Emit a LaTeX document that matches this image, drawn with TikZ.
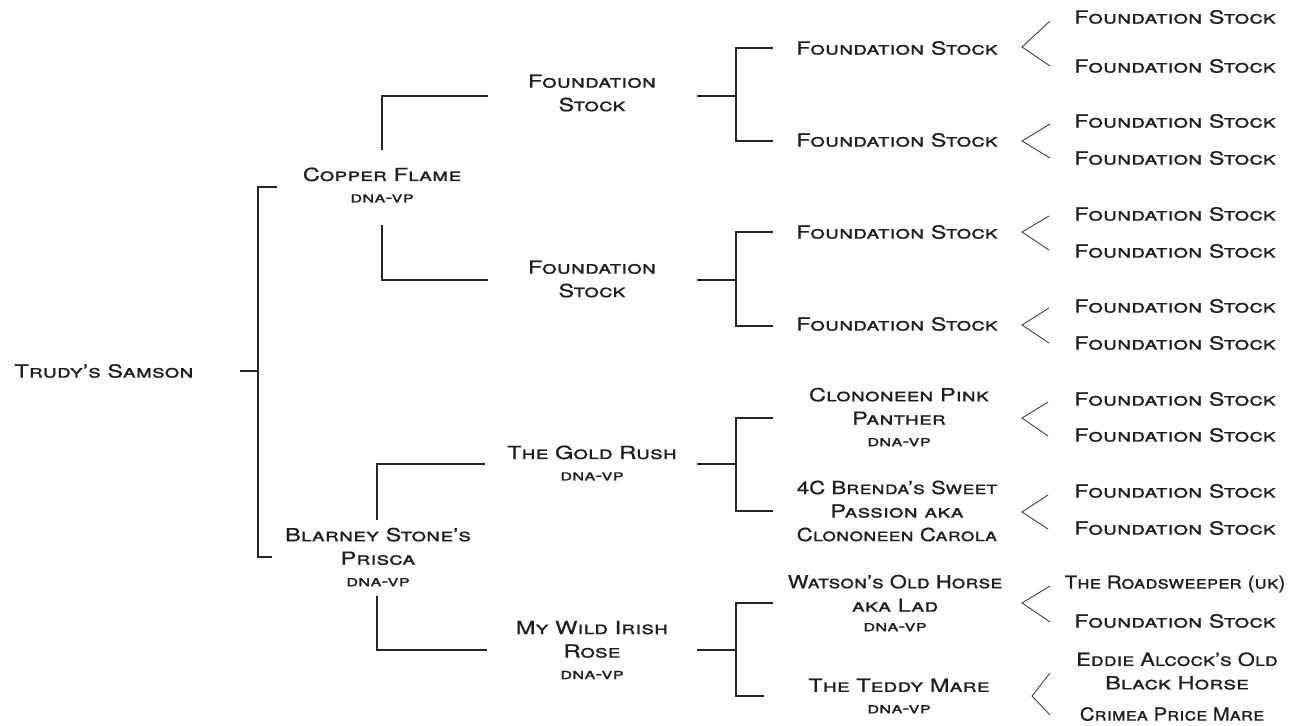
\documentclass[tikz,border=0pt]{standalone}
\usepackage{fontspec}
\setmainfont{TeX Gyre Heros}[FakeStretch=1.31,FakeBold=0.7]
\newcommand\dnavp{{\fontsize{15.5}{17}\selectfont dna-vp}}
\begin{document}
\begin{tikzpicture}[x=1pt,y=-1pt,
  horse/.style={inner sep=0pt,align=center,font=\fontsize{18}{23.5}\selectfont\scshape,text=black!88},
  br/.style={draw=black!85,line width=1.3pt},
  chev/.style={draw=black!75,line width=0.9pt}]
\useasboundingbox (0,0) rectangle (1289,725);
% generation 0
\node[horse] (root) at (104,371) {Trudy's Samson};
% generation 1
\node[horse] (cf) at (382,185) {Copper Flame\\[-2pt]\dnavp};
\node[horse] (bp) at (378,557) {Blarney Stone's\\Prisca\\[-2pt]\dnavp};
% generation 2
\node[horse] (fs1) at (592,93) {Foundation\\Stock};
\node[horse] (fs2) at (592,279) {Foundation\\Stock};
\node[horse] (gr) at (592,463) {The Gold Rush\\[-2pt]\dnavp};
\node[horse] (wr) at (592,650) {My Wild Irish\\Rose\\[-2pt]\dnavp};
% generation 3
\node[horse] (a1) at (897,48) {Foundation Stock};
\node[horse] (a2) at (897,140) {Foundation Stock};
\node[horse] (a3) at (897,232) {Foundation Stock};
\node[horse] (a4) at (897,324) {Foundation Stock};
\node[horse] (a5) at (899,417) {Clononeen Pink\\Panther\\[-2pt]\dnavp};
\node[horse] (a6) at (897,511) {\scalebox{0.94}[1]{4C Brenda's Sweet}\\Passion aka\\\scalebox{0.94}[1]{Clononeen Carola}};
\node[horse] (a7) at (895,603) {\scalebox{0.93}[1]{Watson's Old Horse}\\aka Lad\\[-4pt]\dnavp};
\node[horse] (a8) at (899,696) {The Teddy Mare\\[-2pt]\dnavp};
% generation 4
\node[horse] (b1) at (1175,17) {Foundation Stock};
\node[horse] (b2) at (1175,66) {Foundation Stock};
\node[horse] (b3) at (1175,121) {Foundation Stock};
\node[horse] (b4) at (1175,158) {Foundation Stock};
\node[horse] (b5) at (1175,214) {Foundation Stock};
\node[horse] (b6) at (1175,251) {Foundation Stock};
\node[horse] (b7) at (1175,306) {Foundation Stock};
\node[horse] (b8) at (1175,343) {Foundation Stock};
\node[horse] (b9) at (1175,399) {Foundation Stock};
\node[horse] (b10) at (1175,435) {Foundation Stock};
\node[horse] (b11) at (1175,491) {Foundation Stock};
\node[horse] (b12) at (1175,528) {Foundation Stock};
\node[horse] (b13) at (1175,584) {\scalebox{0.88}[1]{The Roadsweeper (uk)}};
\node[horse] (b14) at (1175,621) {Foundation Stock};
\node[horse] (b15) at (1177,671) {\scalebox{0.93}[1]{Eddie Alcock's Old}\\Black Horse};
\node[horse] (b16) at (1172,714) {\scalebox{0.86}[1]{Crimea Price Mare}};

% bracket root
\coordinate (r0) at (240,371);
\coordinate (r1) at (258,371);
\coordinate (rt) at (258,187);
\coordinate (rb) at (258,557);
\coordinate (rte) at (277,187);
\coordinate (rbe) at (272,557);
\draw[br] (r0) -- (r1);
\draw[br] (rte) -- (rt) -- (rb) -- (rbe);
% Copper Flame
\coordinate (cft) at (382,150);
\coordinate (cftc) at (382,96);
\coordinate (cfte) at (488,96);
\coordinate (cfb) at (382,225);
\coordinate (cfbc) at (382,280);
\coordinate (cfbe) at (488,280);
\draw[br] (cft) -- (cftc) -- (cfte);
\draw[br] (cfb) -- (cfbc) -- (cfbe);
% Blarney
\coordinate (bpt) at (377,520);
\coordinate (bptc) at (377,464);
\coordinate (bpte) at (485,464);
\coordinate (bpb) at (377,596);
\coordinate (bpbc) at (377,650);
\coordinate (bpbe) at (487,650);
\draw[br] (bpt) -- (bptc) -- (bpte);
\draw[br] (bpb) -- (bpbc) -- (bpbe);
% generation 2 brackets
\foreach \n/\y/\t/\b/\e in {p/96/48/141/773, q/280/232/326/773, s/464/418/511/773, u/650/603/696/764}{
  \coordinate (\n0) at (697,\y);
  \coordinate (\n1) at (736,\y);
  \coordinate (\n t) at (736,\t);
  \coordinate (\n b) at (736,\b);
  \coordinate (\n te) at (773,\t);
  \coordinate (\n be) at (\e,\b);
  \draw[br] (\n0) -- (\n1);
  \draw[br] (\n te) -- (\n t) -- (\n b) -- (\n be);
}
% chevrons
\foreach \n/\ax/\ay/\ex/\ty/\by in {1/1022/47/1050/21/66, 2/1022/141/1050/124/158, 3/1022/232/1049/216/250, 4/1022/325/1049/308/343, 5/1022/418/1048/402/436, 6/1022/512/1048/495/529, 7/1022/603/1050/586/622, 8/1032/696/1050/673/715}{
  \coordinate (c\n) at (\ax,\ay);
  \coordinate (c\n t) at (\ex,\ty);
  \coordinate (c\n b) at (\ex,\by);
  \draw[chev] (c\n t) -- (c\n) -- (c\n b);
}
\end{tikzpicture}
\end{document}
